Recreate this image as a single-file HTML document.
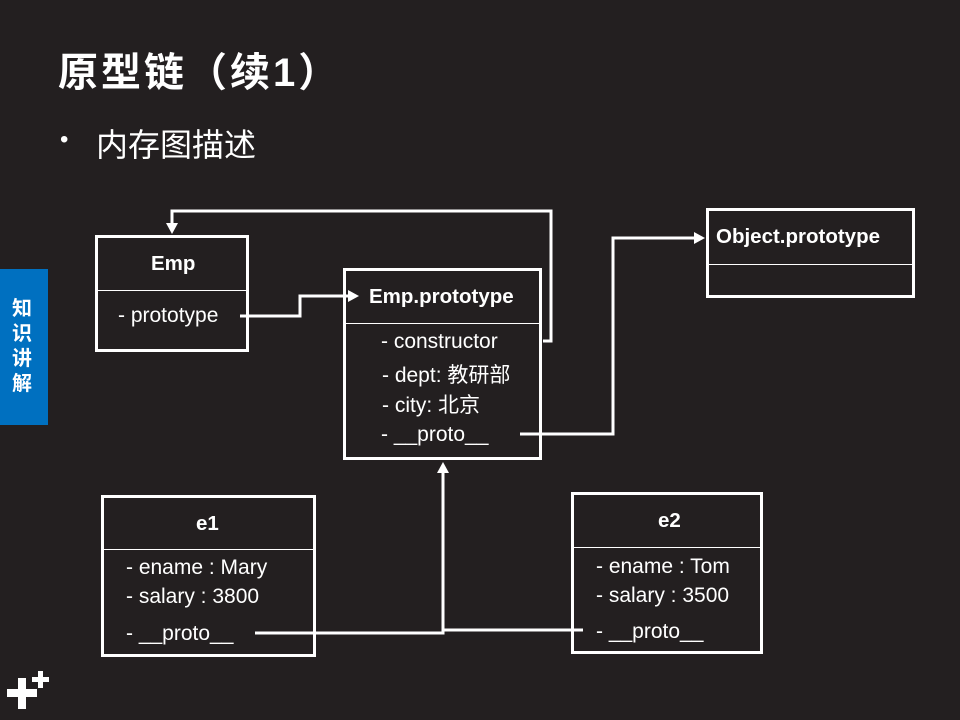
<!DOCTYPE html>
<html><head><meta charset="utf-8"><style>
body{margin:0;width:960px;height:720px;background:#231f20;position:relative;overflow:hidden;font-family:"Liberation Sans","Noto Sans CJK SC",sans-serif;color:#fff}
.a{position:absolute;white-space:nowrap}
.box{position:absolute;border:3px solid #fff;box-sizing:border-box}
.sep{position:absolute;left:0;right:0;height:1px;background:#fff}
.b{font-weight:bold;font-size:20.5px}
.t{font-size:21px}
</style></head><body>
<div class="a" style="left:58px;top:40px;font-size:40px;font-weight:bold;letter-spacing:3px">原型链（续1）</div>
<div class="a" style="left:60px;top:126px;font-size:24px">•</div>
<div class="a" style="left:96px;top:120px;font-size:32px">内存图描述</div>
<div class="a" style="left:0;top:269px;width:48px;height:156px;background:#0070c0"></div>
<div class="a" style="left:12px;top:297px;font-size:20px;font-weight:bold;line-height:25px;white-space:normal;width:24px">知识讲解</div>
<div class="a" style="left:7px;top:689px;width:30px;height:8px;background:#fff"></div>
<div class="a" style="left:18px;top:678px;width:8px;height:31px;background:#fff"></div>
<div class="a" style="left:32px;top:677px;width:17px;height:5px;background:#fff"></div>
<div class="a" style="left:38px;top:671px;width:5px;height:17px;background:#fff"></div>

<div class="box" style="left:95px;top:235px;width:154px;height:117px"><div class="sep" style="top:52px"></div></div>
<div class="a b" style="left:151px;top:252px">Emp</div>
<div class="a t" style="left:118px;top:304px">- prototype</div>

<div class="box" style="left:343px;top:268px;width:199px;height:192px"><div class="sep" style="top:52px"></div></div>
<div class="a b" style="left:369px;top:285px">Emp.prototype</div>
<div class="a t" style="left:381px;top:330px">- constructor</div>
<div class="a t" style="left:382px;top:359px">- dept: 教研部</div>
<div class="a t" style="left:382px;top:389px">- city: 北京</div>
<div class="a t" style="left:381px;top:423px">- __proto__</div>

<div class="box" style="left:706px;top:208px;width:209px;height:90px"><div class="sep" style="top:53px"></div></div>
<div class="a b" style="left:716px;top:225px">Object.prototype</div>

<div class="box" style="left:101px;top:495px;width:215px;height:162px"><div class="sep" style="top:51px"></div></div>
<div class="a b" style="left:196px;top:512px">e1</div>
<div class="a t" style="left:126px;top:556px">- ename : Mary</div>
<div class="a t" style="left:126px;top:585px">- salary : 3800</div>
<div class="a t" style="left:126px;top:622px">- __proto__</div>

<div class="box" style="left:571px;top:492px;width:192px;height:162px"><div class="sep" style="top:52px"></div></div>
<div class="a b" style="left:658px;top:509px">e2</div>
<div class="a t" style="left:596px;top:555px">- ename : Tom</div>
<div class="a t" style="left:596px;top:584px">- salary : 3500</div>
<div class="a t" style="left:596px;top:620px">- __proto__</div>

<svg class="a" style="left:0;top:0" width="960" height="720">
<g stroke="#fff" stroke-width="3" fill="none">
<polyline points="240,316 300,316 300,296 350,296"/>
<polyline points="543,341 551,341 551,211 172,211 172,226"/>
<polyline points="520,434 613,434 613,238 697,238"/>
<polyline points="255,633 443,633 443,470"/>
<polyline points="443,630 583,630"/>
</g>
<g fill="#fff">
<polygon points="359,296 348,290 348,302"/>
<polygon points="172,234 166,223 178,223"/>
<polygon points="705,238 694,232 694,244"/>
<polygon points="443,462 437,473 449,473"/>
</g>
</svg>
</body></html>
